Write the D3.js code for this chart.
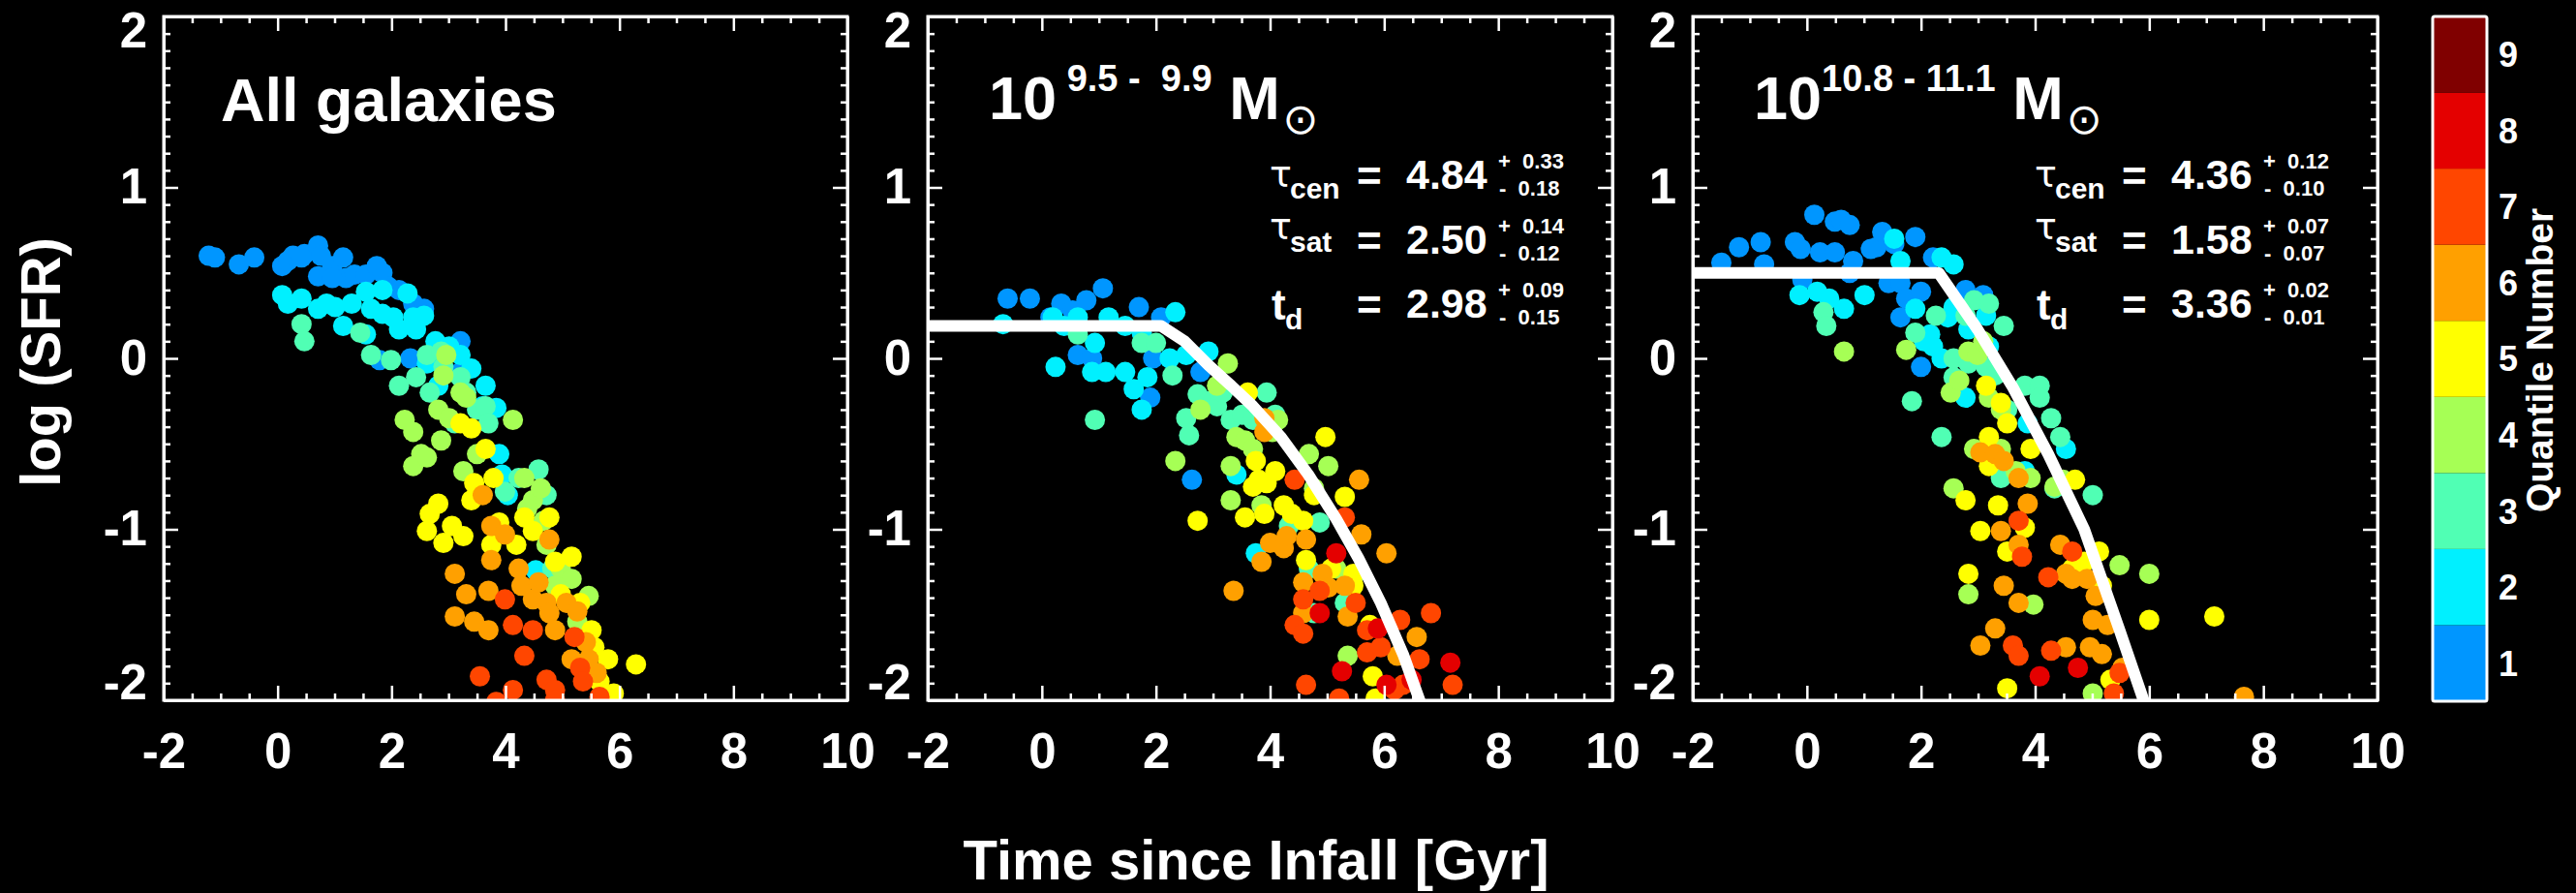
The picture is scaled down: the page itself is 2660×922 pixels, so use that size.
<!DOCTYPE html>
<html><head><meta charset="utf-8">
<script src="https://cdn.jsdelivr.net/npm/d3@7/dist/d3.min.js"></script>
<style>
html,body{margin:0;padding:0;background:#000;}
svg{display:block;}
text{white-space:pre;}
</style></head><body>
<svg id="chart" width="2660" height="922"></svg>
<script>
// ---------- data ----------
const xTickValues = [-2, 0, 2, 4, 6, 8, 10];
const yTickValues = [-2, -1, 0, 1, 2];
const quantiles = [1, 2, 3, 4, 5, 6, 7, 8, 9];
const quantileColors = ["#0096ff", "#00f0ff", "#50ffb4", "#a6ff55", "#ffff00", "#ffa000", "#ff4600", "#e40000", "#800000"];
const panelTitle = "All galaxies";
const massRanges = [" 9.5 -  9.9", "10.8 - 11.1"];
const xTitle = "Time since Infall [Gyr]";
const yTitle = "log (SFR)";
const colorbarTitle = "Quantile Number";

// fit parameters: [symbol, subscript, value, +err, -err]
const lowMassFitParams = [["τ", "cen", "4.84", "0.33", "0.18"], ["τ", "sat", "2.50", "0.14", "0.12"], ["t", "d", "2.98", "0.09", "0.15"]];
const highMassFitParams = [["τ", "cen", "4.36", "0.12", "0.10"], ["τ", "sat", "1.58", "0.07", "0.07"], ["t", "d", "3.36", "0.02", "0.01"]];

// points [time, logSFR], grouped by quantile 1..9
const allGalaxiesPts = [
 [[-1.21,0.60],[-1.10,0.59],[-0.68,0.55],[-0.41,0.59],[0.08,0.54],[0.18,0.57],[0.27,0.60],[0.47,0.61],[0.71,0.66],[0.76,0.60],[0.71,0.48],[0.96,0.54],[1.15,0.59],[1.20,0.47],[1.35,0.49],[1.55,0.49],[1.74,0.54],[1.84,0.50],[1.94,0.42],[2.13,0.40],[2.38,0.32],[2.57,0.29],[3.21,0.10],[2.33,0.00],[1.79,-0.01],[3.21,-0.08],[0.96,0.47],[0.42,0.59]],
 [[0.08,0.37],[0.18,0.32],[0.42,0.35],[0.71,0.29],[0.86,0.32],[1.01,0.30],[1.15,0.19],[1.30,0.32],[1.55,0.39],[1.84,0.40],[2.28,0.38],[1.64,0.29],[1.84,0.26],[2.03,0.24],[2.38,0.24],[2.57,0.25],[2.13,0.17],[2.43,0.17],[2.77,0.10],[3.01,0.07],[3.21,0.02],[3.40,-0.06],[3.65,-0.16],[3.60,-0.28],[3.84,-0.29],[3.89,-0.56],[3.94,-0.68],[4.04,-0.80],[4.53,-1.24],[2.82,-0.16],[1.55,0.14],[2.62,-0.03]],
 [[0.42,0.20],[0.47,0.10],[1.45,0.15],[1.64,0.02],[1.99,-0.01],[2.13,-0.16],[2.43,-0.11],[2.62,0.02],[2.87,0.04],[2.91,-0.05],[3.21,-0.11],[3.31,-0.20],[3.50,-0.30],[3.65,-0.28],[3.70,-0.38],[3.99,-0.78],[4.23,-0.70],[4.58,-0.65],[4.72,-0.80],[4.82,-1.23],[2.67,-0.20],[3.11,-0.38]],
 [[2.23,-0.36],[2.38,-0.43],[2.52,-0.56],[2.38,-0.63],[2.62,-0.58],[2.87,-0.48],[2.96,0.02],[2.91,-0.10],[3.21,-0.20],[3.31,-0.23],[2.82,-0.30],[3.01,-0.35],[3.26,-0.66],[3.50,-0.56],[4.13,-0.36],[4.33,-0.70],[4.48,-0.83],[4.67,-0.95],[4.62,-0.76],[4.38,-0.88],[4.72,-1.09],[4.97,-1.23],[5.16,-1.29],[5.46,-1.39],[5.26,-1.54],[4.87,-1.33]],
 [[2.62,-1.01],[2.67,-0.91],[2.82,-0.85],[3.06,-0.98],[2.91,-1.08],[3.26,-1.04],[3.40,-0.83],[3.21,-0.38],[3.40,-0.41],[3.65,-0.53],[3.79,-0.70],[3.75,-1.09],[3.89,-0.96],[4.19,-1.09],[4.33,-0.93],[4.77,-0.93],[4.87,-1.19],[4.97,-1.38],[5.16,-1.16],[5.31,-1.43],[5.51,-1.59],[5.56,-1.69],[5.80,-1.76],[6.29,-1.79],[3.45,-0.73],[4.48,-1.01],[5.90,-1.96],[5.65,-1.89]],
 [[3.11,-1.26],[3.31,-1.38],[3.11,-1.51],[3.45,-1.54],[3.70,-1.59],[3.60,-0.80],[3.75,-0.98],[3.75,-1.18],[3.70,-1.36],[3.99,-1.03],[4.23,-1.23],[4.28,-1.33],[4.48,-1.41],[4.72,-1.43],[4.77,-1.49],[4.77,-1.06],[4.87,-1.59],[5.07,-1.43],[5.26,-1.48],[5.16,-1.76],[5.46,-1.76],[5.60,-1.84],[4.58,-1.31],[5.41,-1.66]],
 [[3.99,-1.41],[4.13,-1.56],[4.33,-1.74],[4.48,-1.59],[3.55,-1.86],[4.13,-1.94],[4.72,-1.88],[4.87,-1.94],[5.21,-1.63],[5.31,-1.81],[5.36,-1.89],[5.65,-1.98],[4.87,-2.0],[3.84,-2.01]],
 [],
 []
];
const lowMassPts = [
 [[-0.60,0.35],[-0.21,0.35],[0.34,0.32],[0.54,0.28],[0.78,0.34],[1.07,0.41],[1.70,0.30],[2.09,0.24],[0.63,0.02],[0.88,0.00],[1.95,0.00],[1.90,-0.23],[2.63,-0.71],[2.78,-0.08],[0.15,0.24]],
 [[-0.68,0.20],[0.19,0.24],[0.39,0.19],[0.63,0.24],[0.93,0.09],[1.17,0.24],[1.46,0.19],[1.75,0.15],[1.12,-0.08],[0.88,-0.08],[1.46,-0.08],[1.61,-0.18],[1.85,-0.11],[2.34,0.27],[2.24,0.00],[2.53,0.02],[2.92,0.04],[0.24,-0.05],[3.75,-1.14],[3.41,-0.68],[1.75,-0.30]],
 [[0.63,0.14],[0.93,-0.36],[1.75,0.09],[2.00,0.09],[2.29,-0.10],[2.53,-0.35],[2.58,-0.45],[2.73,-0.21],[2.92,-0.25],[3.07,-0.28],[3.17,-0.20],[3.31,-0.36],[3.51,-0.33],[3.70,-0.36],[3.94,-0.20],[4.09,-0.33],[4.33,-0.98],[4.87,-0.96],[5.31,-1.43],[4.77,-1.49],[4.68,-1.23]],
 [[2.34,-0.60],[2.78,-0.30],[3.07,-0.16],[3.31,-0.63],[3.41,-0.46],[3.56,-0.48],[3.70,-0.53],[4.04,-0.43],[4.14,-0.36],[4.68,-0.56],[5.02,-0.63],[3.31,-0.83],[3.85,-0.86],[4.77,-0.76],[5.36,-1.74],[5.45,-1.29],[5.16,-1.23],[3.26,-0.03]],
 [[2.73,-0.95],[3.56,-0.93],[3.70,-0.75],[3.80,-0.71],[3.90,-0.91],[4.09,-0.66],[4.24,-0.86],[4.38,-0.91],[4.58,-0.95],[4.97,-0.46],[4.77,-0.80],[5.31,-0.81],[3.61,-0.20],[4.63,-1.18],[5.46,-1.26],[5.46,-1.33],[5.75,-1.56],[5.80,-1.86],[5.85,-1.99],[5.07,-1.23],[3.75,-0.60],[3.94,-0.73]],
 [[3.36,-1.36],[3.90,-0.35],[3.90,-0.43],[4.00,-1.08],[4.24,-1.11],[3.85,-1.19],[4.29,-1.04],[4.58,-1.31],[4.63,-1.06],[4.92,-1.26],[5.02,-1.34],[5.36,-1.51],[5.31,-1.33],[5.56,-0.71],[5.60,-1.03],[6.04,-1.14],[6.57,-1.63],[4.58,-1.49],[6.23,-1.74]],
 [[4.43,-0.71],[4.58,-1.41],[4.43,-1.56],[4.58,-1.61],[4.87,-1.36],[5.31,-0.93],[5.50,-1.43],[5.70,-1.59],[5.70,-1.72],[5.94,-1.69],[6.28,-1.53],[6.82,-1.49],[6.62,-1.76],[7.20,-1.91],[6.18,-1.94],[6.33,-1.91],[4.63,-1.91],[5.21,-1.99]],
 [[5.16,-1.14],[4.87,-1.49],[5.26,-1.83],[5.89,-1.58],[6.04,-1.91],[7.16,-1.78],[6.48,-1.88]],
 []
];
const highMassPts = [
 [[-1.50,0.56],[-1.19,0.65],[-0.81,0.68],[-0.75,0.55],[-0.21,0.68],[-0.11,0.64],[0.13,0.84],[0.23,0.62],[0.49,0.80],[0.60,0.81],[0.75,0.78],[0.49,0.62],[0.81,0.57],[-0.08,0.46],[0.75,0.50],[1.12,0.64],[1.22,0.65],[1.32,0.74],[1.53,0.67],[1.90,0.71],[1.43,0.44],[1.64,0.44],[1.74,0.35],[2.00,0.39],[2.21,0.59],[2.78,0.40],[3.09,0.37],[2.00,-0.05],[1.64,0.24]],
 [[-0.13,0.37],[0.18,0.39],[0.39,0.35],[0.65,0.29],[1.01,0.37],[1.53,0.70],[1.64,0.57],[1.90,0.29],[2.05,0.10],[2.21,0.07],[2.36,0.59],[2.57,0.55],[2.16,0.14],[2.47,0.24],[2.57,0.30],[2.83,0.17],[3.14,0.25],[3.19,0.07],[3.82,-0.66],[4.54,-0.53],[3.87,-0.38],[2.36,0.00],[2.78,-0.23]],
 [[0.29,0.27],[0.34,0.19],[1.84,-0.25],[1.90,0.15],[2.26,0.25],[2.36,-0.46],[2.57,-0.11],[2.78,0.25],[2.93,0.34],[3.19,0.32],[3.45,0.19],[2.57,0.00],[2.83,-0.03],[3.14,-0.05],[3.30,-0.10],[3.51,-0.30],[3.82,-0.16],[4.08,-0.16],[4.08,-0.23],[4.28,-0.35],[4.44,-0.46],[5.01,-0.80],[4.34,-0.76],[3.40,-0.70]],
 [[0.65,0.04],[1.74,0.05],[2.52,-0.20],[2.67,-0.13],[2.83,0.04],[2.99,0.02],[3.19,-0.23],[3.40,-0.30],[2.93,-0.53],[3.40,-0.53],[3.66,-0.66],[3.92,-0.70],[4.34,-0.75],[3.97,-1.44],[4.49,-0.71],[5.48,-1.21],[6.00,-1.26],[2.83,-1.38],[5.01,-1.96],[2.57,-0.76],[3.09,0.10]],
 [[2.78,-0.83],[3.04,-1.01],[2.83,-1.26],[3.35,-0.86],[3.51,-1.13],[3.19,-0.63],[3.14,-0.16],[3.40,-0.26],[3.51,-0.38],[3.92,-0.53],[3.82,-0.99],[3.51,-1.93],[3.19,-0.46],[4.65,-1.23],[4.86,-1.19],[5.12,-1.13],[5.17,-1.33],[6.00,-1.53],[7.14,-1.51],[5.32,-1.88],[4.70,-0.71]],
 [[3.04,-0.55],[3.30,-0.56],[3.45,-0.60],[3.71,-0.70],[3.87,-0.85],[3.40,-1.01],[3.71,-1.09],[3.45,-1.33],[3.71,-1.43],[3.30,-1.58],[3.04,-1.68],[4.54,-1.69],[4.96,-1.69],[5.01,-1.53],[5.06,-1.39],[4.91,-1.29],[4.54,-1.26],[4.44,-1.09],[4.65,-1.29],[5.27,-1.56],[5.17,-1.73],[7.66,-1.98],[5.53,-1.81]],
 [[3.71,-0.95],[3.77,-1.16],[4.23,-1.28],[3.61,-1.68],[3.71,-1.74],[4.28,-1.71],[4.65,-1.13],[5.38,-1.96],[5.48,-1.84]],
 [[4.08,-1.86],[4.75,-1.81]],
 []
];
// best-fit model curves
const lowMassFit = [[-2,0.19],[2.09,0.19],[2.50,0.10],[2.92,-0.04],[3.32,-0.16],[3.70,-0.28],[4.19,-0.46],[4.67,-0.68],[5.16,-0.94],[5.55,-1.17],[5.94,-1.43],[6.33,-1.73],[6.62,-2.0],[6.68,-2.1]];
const highMassFit = [[-2,0.50],[2.31,0.50],[2.99,0.17],[3.61,-0.17],[4.23,-0.56],[4.86,-1.00],[5.48,-1.59],[5.90,-2.0],[5.93,-2.1]];

// ---------- drawing ----------
const FONT = "'Liberation Sans', Arial, Helvetica, sans-serif";
const svg = d3.select("#chart");
svg.append("rect").attr("width", 2660).attr("height", 922).attr("fill", "#000");

const plotTop = 17, plotBottom = 723;
const y = d3.scaleLinear().domain([-2, 2]).range([plotBottom, plotTop]);
const xMinor = d3.range(-2, 10.001, 0.5).filter(v => Math.abs(v / 2 - Math.round(v / 2)) > 1e-6);
const yMinor = d3.range(-20, 21).map(v => v / 10).filter(v => Math.abs(v - Math.round(v)) > 1e-6);
const plainFormat = d => String(d);

function styleAxis(g) {
  g.select(".domain").attr("stroke", "#fff").attr("stroke-width", 3);
  g.selectAll(".tick line").attr("stroke", "#fff").attr("stroke-width", 2.5);
  g.selectAll(".tick text").attr("fill", "#fff").attr("font-family", FONT)
    .attr("font-weight", "bold").attr("font-size", 51);
}

function drawPanel(i, L, R, pts, fit) {
  const x = d3.scaleLinear().domain([-2, 10]).range([L, R]);
  const g = svg.append("g");
  const clipId = "clip" + i;
  g.append("clipPath").attr("id", clipId).append("rect")
    .attr("x", L).attr("y", plotTop).attr("width", R - L).attr("height", plotBottom - plotTop);
  const pg = g.append("g").attr("clip-path", `url(#${clipId})`);
  pts.forEach((arr, qi) => {
    pg.append("g").selectAll("circle").data(arr).join("circle")
      .attr("cx", d => x(d[0])).attr("cy", d => y(d[1])).attr("r", 10.5)
      .attr("fill", quantileColors[qi]);
  });
  if (fit) {
    pg.append("path").datum(fit)
      .attr("d", d3.line().x(d => x(d[0])).y(d => y(d[1])))
      .attr("fill", "none").attr("stroke", "#fff").attr("stroke-width", 12)
      .attr("stroke-linejoin", "round");
  }
  // bottom axis
  g.append("g").attr("transform", `translate(0,${plotBottom})`)
    .call(d3.axisBottom(x).tickValues(xTickValues).tickSize(-15).tickSizeOuter(0).tickPadding(34)
      .tickFormat(plainFormat)).call(styleAxis);
  g.append("g").attr("transform", `translate(0,${plotBottom})`)
    .call(d3.axisBottom(x).tickValues(xMinor).tickSize(-7).tickSizeOuter(0).tickFormat("")).call(styleAxis);
  // top axis
  g.append("g").attr("transform", `translate(0,${plotTop})`)
    .call(d3.axisTop(x).tickValues(xTickValues).tickSize(-15).tickSizeOuter(0).tickFormat("")).call(styleAxis);
  g.append("g").attr("transform", `translate(0,${plotTop})`)
    .call(d3.axisTop(x).tickValues(xMinor).tickSize(-7).tickSizeOuter(0).tickFormat("")).call(styleAxis);
  // left axis
  const la = g.append("g").attr("transform", `translate(${L},0)`)
    .call(d3.axisLeft(y).tickValues(yTickValues).tickSize(-15).tickSizeOuter(0).tickPadding(17)
      .tickFormat(plainFormat)).call(styleAxis);
  la.selectAll(".tick text").attr("y", d => d === 2 ? 15 : (d === -2 ? -18 : 0));
  g.append("g").attr("transform", `translate(${L},0)`)
    .call(d3.axisLeft(y).tickValues(yMinor).tickSize(-7).tickSizeOuter(0).tickFormat("")).call(styleAxis);
  // right axis
  g.append("g").attr("transform", `translate(${R},0)`)
    .call(d3.axisRight(y).tickValues(yTickValues).tickSize(-15).tickSizeOuter(0).tickFormat("")).call(styleAxis);
  g.append("g").attr("transform", `translate(${R},0)`)
    .call(d3.axisRight(y).tickValues(yMinor).tickSize(-7).tickSizeOuter(0).tickFormat("")).call(styleAxis);
  // frame
  g.append("rect").attr("x", L).attr("y", plotTop).attr("width", R - L).attr("height", plotBottom - plotTop)
    .attr("fill", "none").attr("stroke", "#fff").attr("stroke-width", 3);
  return x;
}

function txt(x0, y0, s, size, opts = {}) {
  return svg.append("text").attr("x", x0).attr("y", y0).text(s)
    .attr("fill", "#fff").attr("font-family", opts.family || FONT)
    .attr("font-weight", opts.weight || "bold").attr("font-size", size)
    .attr("text-anchor", opts.anchor || "start");
}

function drawMassLabel(L, range) {
  const t = svg.append("text").attr("x", L + 63).attr("y", 123)
    .attr("fill", "#fff").attr("font-family", FONT).attr("font-weight", "bold").attr("font-size", 63);
  t.append("tspan").text("10");
  t.append("tspan").attr("font-size", 38).attr("dy", -29).text(range);
  t.append("tspan").attr("dy", 29).text(" M");
  const bb = t.node().getBBox();
  txt(bb.x + bb.width + 3, 138, "⊙", 44, { family: "'DejaVu Sans'", weight: "normal" });
}

function drawFitParams(L, params) {
  const rows = [195, 261.7, 328.3];
  const symBase = [193, 247, 330];
  const subBase = [205, 260, 340];
  params.forEach((p, i) => {
    if (p[0] === "τ") {
      txt(L + 353, symBase[i], p[0], 38, { family: "'DejaVu Sans'", weight: "normal" });
      txt(L + 374, subBase[i], p[1], 30);
    } else {
      txt(L + 355, symBase[i], p[0], 44);
      txt(L + 369, subBase[i], p[1], 30);
    }
    txt(L + 443, rows[i] + 2, "=", 44);
    txt(L + 494, rows[i], p[2], 43);
    txt(L + 589, rows[i] - 21, "+  " + p[3], 22);
    txt(L + 590, rows[i] + 7, "-  " + p[4], 22);
  });
}

drawPanel(0, 169, 875, allGalaxiesPts, null);
drawPanel(1, 958, 1665, lowMassPts, lowMassFit);
drawPanel(2, 1748, 2455, highMassPts, highMassFit);

txt(228, 125, panelTitle, 63);
drawMassLabel(958, massRanges[0]);
drawMassLabel(1748, massRanges[1]);
drawFitParams(958, lowMassFitParams);
drawFitParams(1748, highMassFitParams);

// axis titles
txt(1297, 908, xTitle, 58, { anchor: "middle" });
svg.append("text").attr("transform", "translate(62,374) rotate(-90)").text(yTitle)
  .attr("fill", "#fff").attr("font-family", FONT).attr("font-weight", "bold")
  .attr("font-size", 58).attr("text-anchor", "middle");

// colorbar
const cbX = 2512, cbW = 56;
const cbY = d3.scaleLinear().domain([0.5, 9.5]).range([724, 17]);
svg.append("g").selectAll("rect").data(quantiles).join("rect")
  .attr("x", cbX).attr("width", cbW)
  .attr("y", q => cbY(q + 0.5)).attr("height", q => cbY(q - 0.5) - cbY(q + 0.5))
  .attr("fill", q => quantileColors[q - 1]);
svg.append("rect").attr("x", cbX).attr("y", cbY(9.5)).attr("width", cbW).attr("height", cbY(0.5) - cbY(9.5))
  .attr("fill", "none").attr("stroke", "#fff").attr("stroke-width", 3).attr("rx", 2);
svg.append("g").selectAll("text").data(quantiles).join("text")
  .attr("x", 2580).attr("y", q => cbY(q)).attr("dy", "0.36em").text(q => q)
  .attr("fill", "#fff").attr("font-family", FONT).attr("font-weight", "bold").attr("font-size", 36);
svg.append("text").attr("transform", "translate(2636,372) rotate(-90)").text(colorbarTitle)
  .attr("fill", "#fff").attr("font-family", FONT).attr("font-weight", "bold")
  .attr("font-size", 39).attr("text-anchor", "middle");
</script>
</body></html>
